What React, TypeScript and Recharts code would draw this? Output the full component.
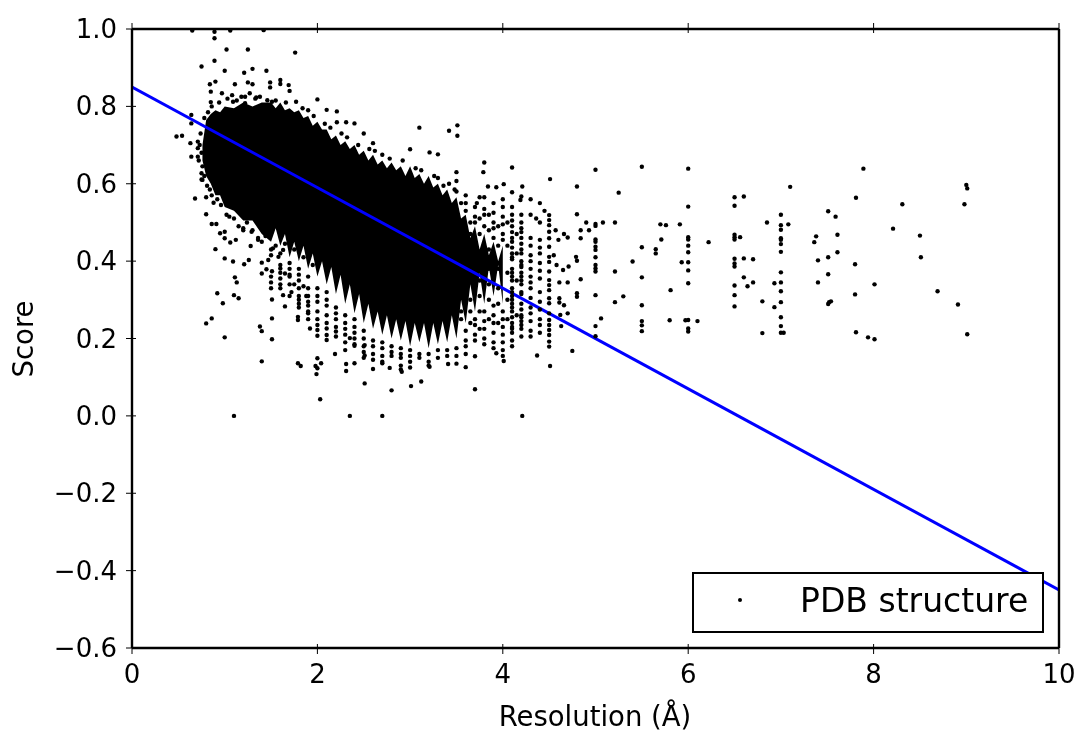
import { ComposedChart, XAxis, YAxis, Area, Scatter, Line } from "recharts";

const FONT = "'DejaVu Sans', sans-serif";
const INK = "#000000";

const xTicks = [0, 2, 4, 6, 8, 10];
const yTicks = [-0.6, -0.4, -0.2, 0, 0.2, 0.4, 0.6, 0.8, 1];

// fitted line, read at the two plot edges
const fitRes = [0, 10];
const fitScore = [0.85, -0.45];

// the part of the cloud that is solid black: resolution, lowest score, highest score
// the edges zigzag because the structures pile up on every tenth of an angstrom
const coreRes = [
  0.76, 0.8, 0.85, 0.9, 0.95, 1.0, 1.1, 1.2, 1.3, 1.4, 1.5, 1.55, 1.6, 1.65, 1.7, 1.75, 1.8, 1.85, 1.9, 1.95, 2.0, 2.05,
  2.1, 2.15, 2.2, 2.25, 2.3, 2.35, 2.4, 2.45, 2.5, 2.55, 2.6, 2.65, 2.7, 2.75, 2.8, 2.85, 2.9, 2.95, 3.0, 3.05, 3.1,
  3.15, 3.2, 3.25, 3.3, 3.35, 3.4, 3.45, 3.5, 3.55, 3.6, 3.65, 3.7, 3.75, 3.8, 3.85, 3.9, 3.95, 4.0,
];
const coreLow = [
  0.66, 0.62, 0.6, 0.57, 0.57, 0.54, 0.53, 0.505, 0.505, 0.47, 0.45, 0.485, 0.44, 0.47, 0.41, 0.45, 0.4, 0.44, 0.38, 0.42,
  0.36, 0.4, 0.34, 0.385, 0.315, 0.365, 0.29, 0.34, 0.265, 0.315, 0.24, 0.29, 0.225, 0.27, 0.21, 0.26, 0.2, 0.25, 0.195,
  0.245, 0.18, 0.24, 0.19, 0.24, 0.175, 0.24, 0.185, 0.245, 0.19, 0.26, 0.2, 0.3, 0.24, 0.34, 0.27, 0.37, 0.29, 0.385,
  0.31, 0.39, 0.29,
];
const coreHigh = [
  0.7, 0.765, 0.78, 0.79, 0.785, 0.8, 0.795, 0.81, 0.8, 0.81, 0.81, 0.795, 0.81, 0.79, 0.795, 0.785, 0.79, 0.77, 0.775,
  0.75, 0.76, 0.74, 0.74, 0.715, 0.725, 0.7, 0.71, 0.69, 0.7, 0.675, 0.685, 0.66, 0.675, 0.65, 0.66, 0.64, 0.655, 0.635,
  0.645, 0.62, 0.645, 0.615, 0.625, 0.6, 0.62, 0.59, 0.6, 0.57, 0.585, 0.55, 0.565, 0.51, 0.52, 0.46, 0.49, 0.43, 0.47,
  0.415, 0.45, 0.4, 0.44,
];

// scattered points above the cloud and to the left of it
const upperPoints = [
  [0.65, 0.996], [0.89, 0.993], [0.89, 0.976], [1.06, 0.996], [1.42, 0.997], [1.02, 0.947], [1.25, 0.947], [1.76, 0.939],
  [0.89, 0.918], [0.75, 0.903], [1.0, 0.892], [1.21, 0.887], [1.3, 0.897], [1.45, 0.892], [0.9, 0.864], [0.84, 0.857],
  [1.11, 0.857], [1.25, 0.862], [1.3, 0.857], [1.49, 0.862], [1.49, 0.849], [1.6, 0.868], [1.6, 0.858], [1.69, 0.855],
  [1.7, 0.84], [0.85, 0.838], [0.97, 0.834], [0.85, 0.811], [1.08, 0.829], [1.09, 0.812], [1.22, 0.825], [1.22, 0.808],
  [1.27, 0.834], [1.34, 0.823], [1.46, 0.816], [1.51, 0.812], [1.77, 0.812], [2.0, 0.818], [2.1, 0.791], [2.21, 0.787],
  [2.21, 0.759], [2.31, 0.759], [2.4, 0.756], [2.5, 0.73], [2.6, 0.705], [0.48, 0.722], [0.54, 0.724], [0.63, 0.705],
  [0.64, 0.67], [0.71, 0.67], [0.75, 0.627], [0.75, 0.611], [0.68, 0.562], [0.8, 0.565], [0.88, 0.551], [0.8, 0.521],
  [0.64, 0.778], [0.64, 0.756], [0.71, 0.709], [0.71, 0.692],
  [3.1, 0.745], [3.42, 0.737], [3.51, 0.751], [3.51, 0.724], [3.0, 0.689], [3.21, 0.681], [3.3, 0.676],
];

// loose dots along the edge of the solid part, which make it look speckled
const fringePoints = [
  [0.78, 0.77], [0.82, 0.785], [0.86, 0.8], [0.94, 0.81], [1.03, 0.82], [1.13, 0.815], [1.18, 0.825],
  [1.33, 0.82], [1.38, 0.825], [1.55, 0.815], [1.66, 0.81],
  [1.84, 0.795], [1.9, 0.79], [1.96, 0.775], [2.08, 0.755], [2.14, 0.745],
  [2.26, 0.73], [2.32, 0.72], [2.44, 0.7], [2.56, 0.69], [2.62, 0.685], [2.7, 0.675],
  [2.78, 0.665], [2.92, 0.66], [3.06, 0.64], [3.12, 0.635], [3.26, 0.62], [3.3, 0.615],
  [3.36, 0.595], [3.42, 0.6], [3.48, 0.585], [0.74, 0.73], [0.73, 0.7], [0.75, 0.68], [0.72, 0.66], [0.76, 0.645], [0.78, 0.62],
  [0.76, 0.61], [0.81, 0.595], [0.84, 0.585], [0.86, 0.57], [0.92, 0.56], [0.96, 0.545], [1.02, 0.52], [1.05, 0.515], [1.1, 0.51],
  [1.15, 0.49], [1.2, 0.485], [1.24, 0.5], [1.3, 0.48], [1.36, 0.46], [1.4, 0.45], [1.44, 0.465], [1.5, 0.43],
  [1.55, 0.44], [1.6, 0.42], [1.65, 0.445], [1.7, 0.395], [1.75, 0.43], [1.8, 0.38],
  [1.85, 0.41], [1.9, 0.36], [1.95, 0.39], [1.5, 0.415], [1.8, 0.365],
];

// scattered points below the cloud
const lowerPoints = [
  [1.1, 0.0], [2.35, 0.0], [2.7, 0.0], [4.21, 0.0], [2.03, 0.043], [2.51, 0.084], [1.4, 0.141], [1.0, 0.203],
  [0.8, 0.239], [0.86, 0.252], [1.51, 0.198], [1.51, 0.252], [1.38, 0.231], [1.4, 0.219], [0.92, 0.317], [0.98, 0.291],
  [1.1, 0.312], [1.15, 0.304], [1.51, 0.301], [1.63, 0.312], [1.65, 0.283], [1.79, 0.256], [1.79, 0.248], [1.92, 0.226],
  [1.79, 0.136], [1.82, 0.129], [2.0, 0.149], [2.04, 0.136], [1.98, 0.129], [2.0, 0.123], [1.99, 0.108], [2.19, 0.16],
  [2.31, 0.134], [2.31, 0.116], [2.4, 0.136], [2.6, 0.121], [2.51, 0.156], [2.4, 0.181], [2.35, 0.201], [2.51, 0.183],
  [0.9, 0.431], [1.0, 0.407], [1.09, 0.399], [1.21, 0.392], [1.26, 0.403], [1.4, 0.396], [1.47, 0.403], [1.45, 0.379],
  [1.4, 0.368], [1.51, 0.374], [1.6, 0.381], [1.65, 0.368], [1.11, 0.358], [1.13, 0.345], [1.12, 0.455], [1.06, 0.448],
  [1.28, 0.439], [1.0, 0.459], [0.95, 0.472], [1.0, 0.476], [0.86, 0.496], [0.91, 0.496], [1.2, 0.48], [1.29, 0.476],
  [1.36, 0.455], [1.52, 0.433], [1.58, 0.411], [1.63, 0.429], [3.7, 0.069], [2.8, 0.066], [3.01, 0.077], [3.12, 0.089],
  [2.91, 0.114], [2.7, 0.136], [2.78, 0.124], [3.21, 0.127], [3.41, 0.134], [3.6, 0.126], [4.01, 0.142], [4.51, 0.129],
  [4.37, 0.156], [4.75, 0.168], [3.7, 0.154], [3.93, 0.162], [1.7, 0.36], [1.75, 0.34], [1.72, 0.32], [1.85, 0.335],
  [1.88, 0.31], [1.8, 0.3], [1.8, 0.28], [1.9, 0.285], [1.9, 0.265], [1.6, 0.34],
];

// scattered points right of the cloud, up to 5 A
const rightPoints = [
  [3.8, 0.655], [4.1, 0.642], [3.79, 0.63], [3.84, 0.593], [3.93, 0.591], [4.01, 0.599], [4.21, 0.593], [4.1, 0.578],
  [4.2, 0.567], [4.19, 0.558], [3.75, 0.565], [3.72, 0.55], [4.8, 0.593], [4.8, 0.521], [4.51, 0.612], [4.9, 0.5],
  [4.93, 0.48], [4.84, 0.48], [4.84, 0.459], [4.7, 0.461], [4.79, 0.411], [4.8, 0.401], [4.71, 0.386], [4.65, 0.377],
  [4.84, 0.353], [4.61, 0.345], [4.7, 0.345], [4.8, 0.317], [4.8, 0.308], [5.06, 0.252], [4.63, 0.232], [4.7, 0.265],
  [4.62, 0.261], [4.66, 0.286], [4.61, 0.304], [4.61, 0.293], [4.57, 0.48], [4.6, 0.455], [4.66, 0.47], [4.4, 0.55],
  [4.3, 0.56], [4.36, 0.51], [4.45, 0.53], [4.55, 0.415], [4.58, 0.39], [5.08, 0.5],
];

// sparse points beyond 5 A
const farPoints = [
  [7.89, 0.639], [7.81, 0.564], [7.1, 0.592], [7.51, 0.529], [7.59, 0.515], [7.08, 0.495], [7.61, 0.468], [7.38, 0.464],
  [7.36, 0.449], [7.61, 0.423], [7.51, 0.41], [7.4, 0.402], [7.8, 0.392], [7.51, 0.366], [7.4, 0.345], [8.01, 0.34],
  [7.8, 0.314], [7.54, 0.296], [7.52, 0.294], [7.51, 0.289], [7.81, 0.216], [7.94, 0.203], [8.01, 0.198], [8.31, 0.547],
  [8.21, 0.484], [8.5, 0.466], [8.51, 0.41], [8.69, 0.322], [8.91, 0.288], [9.01, 0.211], [8.98, 0.547], [9.0, 0.597],
  [9.01, 0.588], [6.85, 0.5], [6.93, 0.343], [6.8, 0.296], [6.93, 0.281], [6.8, 0.214], [7.03, 0.215], [6.6, 0.567],
  [6.56, 0.462], [6.6, 0.407], [6.7, 0.405], [6.6, 0.358], [6.64, 0.335], [6.7, 0.345], [6.22, 0.449], [5.91, 0.495],
  [5.7, 0.495], [5.76, 0.493], [5.71, 0.456], [5.93, 0.397], [5.81, 0.325], [5.8, 0.247], [5.97, 0.247], [6.1, 0.245],
  [5.65, 0.431], [5.65, 0.42], [5.4, 0.399], [5.25, 0.577], [5.21, 0.5], [5.21, 0.373], [5.3, 0.309], [5.21, 0.294],
];

// structures pile up on round resolutions, so these are read column by column
const columnRes = [
  1.5, 1.6, 1.7, 1.8, 1.9,
  2.0, 2.1, 2.2, 2.3, 2.4, 2.5, 2.6, 2.7, 2.8, 2.9, 3.0, 3.1, 3.2, 3.3, 3.4, 3.5, 3.6, 3.7, 3.8, 3.9, 4.0, 4.1, 4.2,
  4.3, 4.4, 4.5, 5.0, 5.5, 6.0, 6.5, 7.0,
];
const columnScores = [
  [0.36, 0.345, 0.33],
  [0.39, 0.37, 0.355, 0.33],
  [0.38, 0.365, 0.34, 0.31],
  [0.35, 0.33, 0.31, 0.29],
  [0.33, 0.31, 0.295, 0.27, 0.25],
  [0.33, 0.31, 0.295, 0.27, 0.25, 0.235, 0.222, 0.207],
  [0.32, 0.3, 0.285, 0.26, 0.24, 0.226, 0.209, 0.196],
  [0.28, 0.265, 0.25, 0.23, 0.218, 0.205],
  [0.26, 0.24, 0.225, 0.21, 0.19, 0.17],
  [0.25, 0.23, 0.215, 0.2, 0.185],
  [0.22, 0.2, 0.18, 0.165, 0.15],
  [0.195, 0.18, 0.16, 0.145],
  [0.19, 0.175, 0.155, 0.14],
  [0.18, 0.165, 0.155],
  [0.175, 0.16, 0.15, 0.13, 0.12],
  [0.17, 0.155, 0.14, 0.125],
  [0.16, 0.15],
  [0.16, 0.14, 0.13],
  [0.17, 0.15],
  [0.17, 0.155],
  [0.63, 0.607, 0.58, 0.175, 0.155, 0.135],
  [0.57, 0.55, 0.53, 0.22, 0.195, 0.18, 0.16],
  [0.54, 0.515, 0.5, 0.25, 0.235, 0.21, 0.195],
  [0.565, 0.535, 0.52, 0.49, 0.27, 0.245, 0.225, 0.2, 0.185],
  [0.55, 0.525, 0.5, 0.485, 0.46, 0.285, 0.26, 0.24, 0.215, 0.19, 0.175],
  [0.56, 0.54, 0.515, 0.495, 0.47, 0.455, 0.27, 0.25, 0.23, 0.21, 0.19, 0.17, 0.155],
  [0.54, 0.52, 0.49, 0.475, 0.45, 0.42, 0.405, 0.38, 0.36, 0.33, 0.31, 0.29, 0.27, 0.255, 0.23, 0.215, 0.195, 0.18],
  [0.52, 0.5, 0.485, 0.46, 0.445, 0.42, 0.4, 0.385, 0.36, 0.34, 0.315, 0.29, 0.26, 0.245, 0.225, 0.205],
  [0.52, 0.46, 0.44, 0.415, 0.4, 0.38, 0.36, 0.345, 0.33, 0.305, 0.28, 0.265, 0.245, 0.22, 0.205],
  [0.5, 0.455, 0.435, 0.42, 0.395, 0.375, 0.355, 0.32, 0.295, 0.275, 0.25, 0.235, 0.215],
  [0.519, 0.506, 0.493, 0.476, 0.459, 0.437, 0.411, 0.398, 0.373, 0.351, 0.338, 0.325, 0.304, 0.291, 0.265, 0.248, 0.235, 0.222, 0.209, 0.192, 0.179],
  [0.636, 0.496, 0.491, 0.456, 0.45, 0.437, 0.429, 0.41, 0.39, 0.381, 0.373, 0.312, 0.232, 0.206],
  [0.644, 0.436, 0.358, 0.286, 0.245, 0.234, 0.219],
  [0.639, 0.541, 0.462, 0.456, 0.44, 0.423, 0.397, 0.376, 0.343, 0.248, 0.226, 0.218],
  [0.565, 0.543, 0.468, 0.462, 0.456, 0.406, 0.394, 0.386, 0.337, 0.312, 0.283],
  [0.52, 0.493, 0.481, 0.459, 0.455, 0.444, 0.424, 0.371, 0.345, 0.322, 0.294, 0.255, 0.232, 0.215],
];

// a few more points on the crowded side, right of the solid part
const crowdRes = [3.55, 3.65, 3.75, 3.85, 3.95, 4.05, 4.1, 4.15, 4.2];
const crowdScores = [
  [0.55, 0.27, 0.25],
  [0.5, 0.47, 0.3, 0.27, 0.24],
  [0.51, 0.47, 0.35, 0.31, 0.27, 0.225],
  [0.52, 0.48, 0.43, 0.38, 0.34, 0.3, 0.25],
  [0.49, 0.44, 0.38, 0.33, 0.29, 0.24],
  [0.5, 0.44, 0.37, 0.3, 0.25],
  [0.505, 0.46, 0.435, 0.41, 0.37, 0.35, 0.32, 0.3, 0.28, 0.24, 0.225],
  [0.47, 0.42, 0.35, 0.26],
  [0.475, 0.43, 0.39, 0.37, 0.35, 0.32, 0.275, 0.255, 0.235],
];

const coreRows = coreRes.map((res, i) => ({ res, band: [coreLow[i], coreHigh[i]] }));
const fitRows = fitRes.map((res, i) => ({ res, fit: fitScore[i] }));
const pointRows = [
  ...[...upperPoints, ...fringePoints, ...lowerPoints, ...rightPoints, ...farPoints].map(([res, score]) => ({ res, score })),
  ...columnRes.flatMap((res, i) => columnScores[i].map((score) => ({ res, score }))),
  ...crowdRes.flatMap((res, i) => crowdScores[i].map((score) => ({ res, score }))),
];

const formatY = (v: number) => v.toFixed(1).replace("-", "\u2212");

const Dot = ({ cx, cy }: any) => <circle cx={cx} cy={cy} r={2.2} fill="#000" />;

// ticks point into the plot, the way matplotlib draws them
const BottomTick = ({ x, y, payload }: any) => (
  <g>
    <line x1={x} x2={x} y1={y} y2={y - 10} stroke={INK} strokeWidth={1} />
    <text x={x} y={y + 29} textAnchor="middle" fontSize={26} fontFamily={FONT} fill={INK}>
      {payload.value}
    </text>
  </g>
);
const TopTick = ({ x, y }: any) => <line x1={x} x2={x} y1={y} y2={y + 10} stroke={INK} strokeWidth={1} />;
const LeftTick = ({ x, y, payload }: any) => (
  <g>
    <line x1={x} x2={x + 10} y1={y} y2={y} stroke={INK} strokeWidth={1} />
    <text x={x - 9} y={y + 9} textAnchor="end" fontSize={26} fontFamily={FONT} fill={INK}>
      {formatY(payload.value)}
    </text>
  </g>
);
const RightTick = ({ x, y }: any) => <line x1={x} x2={x - 10} y1={y} y2={y} stroke={INK} strokeWidth={1} />;

const axisLine = { stroke: INK, strokeWidth: 2.4 };

export default function App() {
  return (
    <div style={{ position: "absolute", left: 0, top: 0, width: 1081, height: 735, background: "#fff", filter: "blur(0.6px)" }}>
      <ComposedChart width={1081} height={735} data={coreRows} margin={{ top: 0, right: 0, bottom: 0, left: 0 }}>
        <XAxis
          dataKey="res"
          type="number"
          domain={[0, 10]}
          ticks={xTicks}
          height={87}
          interval={0}
          allowDataOverflow
          tickLine={false}
          axisLine={axisLine}
          tick={<BottomTick />}
          tickMargin={0}
        />
        <XAxis
          xAxisId="top"
          orientation="top"
          dataKey="res"
          type="number"
          domain={[0, 10]}
          ticks={xTicks}
          height={29}
          interval={0}
          tickLine={false}
          axisLine={axisLine}
          tick={<TopTick />}
          tickMargin={0}
        />
        <YAxis
          dataKey="score"
          type="number"
          domain={[-0.6, 1]}
          ticks={yTicks}
          width={132}
          interval={0}
          allowDataOverflow
          tickLine={false}
          axisLine={axisLine}
          tick={<LeftTick />}
          tickMargin={0}
        />
        <YAxis
          yAxisId="right"
          orientation="right"
          type="number"
          domain={[-0.6, 1]}
          ticks={yTicks}
          width={22}
          interval={0}
          tickLine={false}
          axisLine={axisLine}
          tick={<RightTick />}
          tickMargin={0}
        />
        <Area
          dataKey="band"
          type="linear"
          stroke="none"
          fill="#000"
          fillOpacity={1}
          dot={false}
          activeDot={false}
          isAnimationActive={false}
        />
        <Scatter data={pointRows} shape={<Dot />} isAnimationActive={false} />
        <Line
          data={fitRows}
          dataKey="fit"
          type="linear"
          stroke="#0000ff"
          strokeWidth={3}
          dot={false}
          activeDot={false}
          isAnimationActive={false}
        />
        <text x={595} y={726} textAnchor="middle" fontSize={27.5} fontFamily={FONT} fill={INK}>
          Resolution (Å)
        </text>
        <text
          x={33}
          y={339}
          textAnchor="middle"
          fontSize={27.5}
          fontFamily={FONT}
          fill={INK}
          transform="rotate(-90 33 339)"
        >
          Score
        </text>
      </ComposedChart>
      <div
        style={{
          position: "absolute",
          left: 692,
          top: 572,
          width: 348,
          height: 57,
          border: `2px solid ${INK}`,
          background: "#fff",
        }}
      >
        <div
          style={{
            position: "absolute",
            left: 44,
            top: 24,
            width: 4,
            height: 4,
            borderRadius: "50%",
            background: "#000",
          }}
        />
        <div
          style={{
            position: "absolute",
            left: 106,
            top: 8,
            fontFamily: FONT,
            fontSize: 33,
            lineHeight: "38px",
            color: INK,
            whiteSpace: "nowrap",
          }}
        >
          PDB structure
        </div>
      </div>
    </div>
  );
}
